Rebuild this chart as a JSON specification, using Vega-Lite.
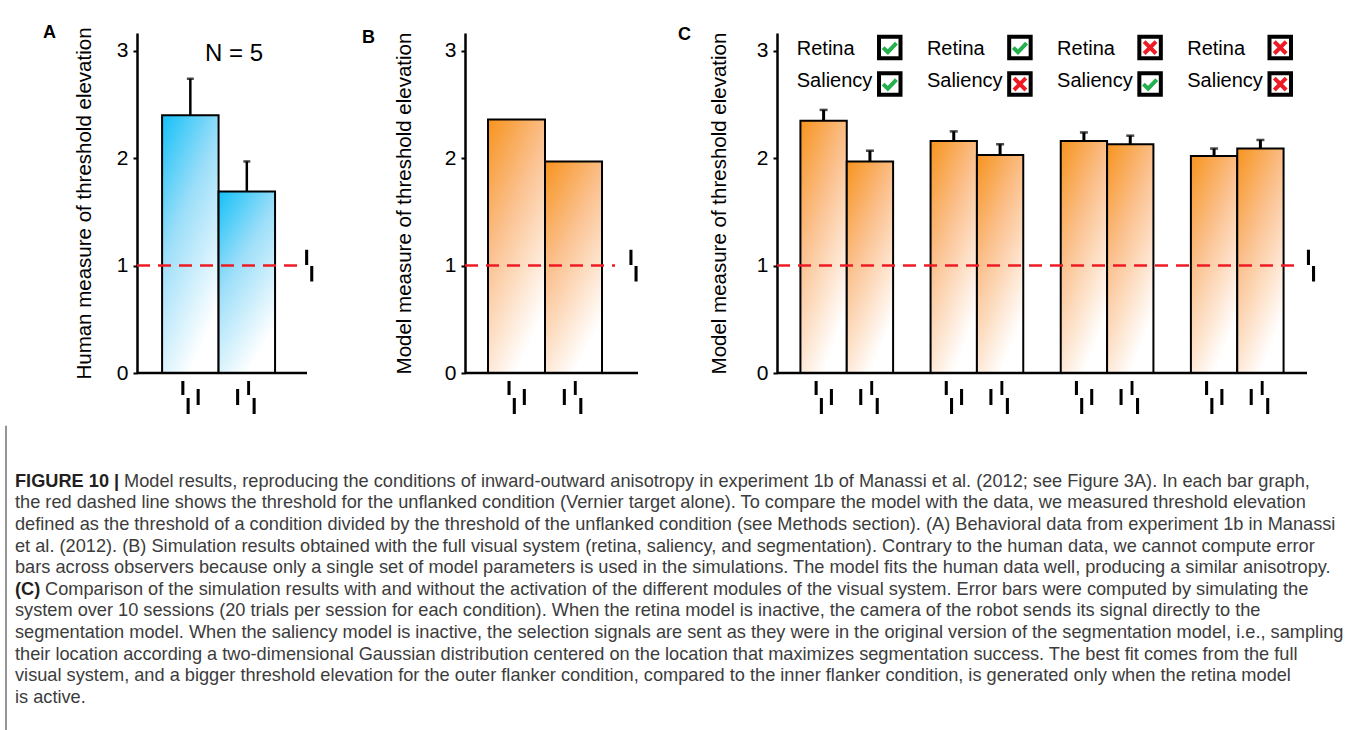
{
  "$schema": "https://vega.github.io/schema/vega-lite/v6.json",
  "autosize": "none",
  "padding": {"left": 137, "top": 33, "right": 1218, "bottom": 697},
  "background": "white",
  "columns": 3,
  "spacing": {"row": 44, "column": 139},
  "bounds": "flush",
  "datasets": {
    "human": [
      {"cond": "outer", "value": 2.40, "err": 2.74},
      {"cond": "inner", "value": 1.69, "err": 1.97}
    ],
    "modelB": [
      {"cond": "outer", "value": 2.36},
      {"cond": "inner", "value": 1.97}
    ],
    "modelC": [
      {"group": "retina+saliency", "cond": "outer", "value": 2.35, "err": 2.45},
      {"group": "retina+saliency", "cond": "inner", "value": 1.97, "err": 2.07},
      {"group": "retina only", "cond": "outer", "value": 2.16, "err": 2.25},
      {"group": "retina only", "cond": "inner", "value": 2.03, "err": 2.13},
      {"group": "saliency only", "cond": "outer", "value": 2.16, "err": 2.24},
      {"group": "saliency only", "cond": "inner", "value": 2.13, "err": 2.21},
      {"group": "neither", "cond": "outer", "value": 2.02, "err": 2.09},
      {"group": "neither", "cond": "inner", "value": 2.09, "err": 2.17}
    ],
    "legendC": [
      {"group": "retina+saliency", "module": "Retina", "state": "on"},
      {"group": "retina+saliency", "module": "Saliency", "state": "on"},
      {"group": "retina only", "module": "Retina", "state": "on"},
      {"group": "retina only", "module": "Saliency", "state": "off"},
      {"group": "saliency only", "module": "Retina", "state": "off"},
      {"group": "saliency only", "module": "Saliency", "state": "on"},
      {"group": "neither", "module": "Retina", "state": "off"},
      {"group": "neither", "module": "Saliency", "state": "off"}
    ],
    "caption": [
      {"line": 1, "part": "lead", "text": "FIGURE 10 |"},
      {"line": 1, "part": "afterFigure", "text": "Model results, reproducing the conditions of inward-outward anisotropy in experiment 1b of Manassi et al. (2012; see Figure 3A). In each bar graph,"},
      {"line": 2, "part": "body", "text": "the red dashed line shows the threshold for the unflanked condition (Vernier target alone). To compare the model with the data, we measured threshold elevation"},
      {"line": 3, "part": "body", "text": "defined as the threshold of a condition divided by the threshold of the unflanked condition (see Methods section). (A) Behavioral data from experiment 1b in Manassi"},
      {"line": 4, "part": "body", "text": "et al. (2012). (B) Simulation results obtained with the full visual system (retina, saliency, and segmentation). Contrary to the human data, we cannot compute error"},
      {"line": 5, "part": "body", "text": "bars across observers because only a single set of model parameters is used in the simulations. The model fits the human data well, producing a similar anisotropy."},
      {"line": 6, "part": "lead", "text": "(C)"},
      {"line": 6, "part": "afterC", "text": "Comparison of the simulation results with and without the activation of the different modules of the visual system. Error bars were computed by simulating the"},
      {"line": 7, "part": "body", "text": "system over 10 sessions (20 trials per session for each condition). When the retina model is inactive, the camera of the robot sends its signal directly to the"},
      {"line": 8, "part": "body", "text": "segmentation model. When the saliency model is inactive, the selection signals are sent as they were in the original version of the segmentation model, i.e., sampling"},
      {"line": 9, "part": "body", "text": "their location according a two-dimensional Gaussian distribution centered on the location that maximizes segmentation success. The best fit comes from the full"},
      {"line": 10, "part": "body", "text": "visual system, and a bigger threshold elevation for the outer flanker condition, compared to the inner flanker condition, is generated only when the retina model"},
      {"line": 11, "part": "body", "text": "is active."}
    ]
  },
  "concat": [
    {
      "width": 189,
      "height": 340,
      "title": {"text": "A", "anchor": "start", "frame": "group", "dx": -94, "offset": -15, "fontSize": 18, "fontWeight": "bold"},
      "data": {"name": "human"},
      "layer": [
        {
          "mark": {"type": "bar", "stroke": "black", "strokeWidth": 2,
            "fill": {"gradient": "linear", "x1": 0, "y1": 0, "x2": 0.5, "y2": 1,
              "stops": [{"offset": 0, "color": "#14C0F7"}, {"offset": 0.45, "color": "#9BDEF9"}, {"offset": 1, "color": "#FFFFFF"}]}},
          "encoding": {
            "x": {"field": "cond", "type": "nominal", "scale": {"domain": ["outer", "inner"], "paddingInner": 0, "paddingOuter": 0.673, "align": 0.33}, "axis": null},
            "y": {"field": "value", "type": "quantitative", "scale": {"domain": [0, 3.166], "nice": false},
              "axis": {"values": [0, 1, 2, 3], "format": "d", "title": "Human measure of threshold elevation", "titlePadding": 22}}
          }
        },
        {
          "mark": {"type": "rule", "color": "black", "strokeWidth": 2.5},
          "encoding": {"x": {"field": "cond", "type": "nominal"}, "y": {"field": "value", "type": "quantitative"}, "y2": {"field": "err"}}
        },
        {
          "mark": {"type": "tick", "color": "black", "orient": "horizontal", "size": 7, "thickness": 2.5},
          "encoding": {"x": {"field": "cond", "type": "nominal"}, "y": {"field": "err", "type": "quantitative"}}
        },
        {
          "data": {"values": [{"ref": "unflanked"}]},
          "mark": {"type": "rule", "color": "#ED1C24", "strokeWidth": 2.5, "strokeDash": [13, 8], "x2Offset": -26},
          "encoding": {"y": {"datum": 1}, "x": {"value": 0}, "x2": {"value": "width"}}
        },
        {
          "data": {"values": [{"ref": "baseline"}]},
          "mark": {"type": "rule", "color": "black", "strokeWidth": 2.5, "x2Offset": -19},
          "encoding": {"y": {"datum": 0}, "x": {"value": 0}, "x2": {"value": "width"}}
        },
        {
          "data": {"values": [{"cond": "alone"}]},
          "mark": {"type": "point", "shape": "M-0.24,-0.94H-0.06V-0.03H-0.24Z M0.06,0.03H0.24V0.94H0.06Z", "size": 1156, "filled": true, "color": "black", "opacity": 1, "xOffset": -16.8},
          "encoding": {"x": {"value": "width"}, "y": {"datum": 1}}
        },
        {
          "transform": [{"filter": "datum.cond === 'outer'"}],
          "mark": {"type": "point", "shape": "M-0.53,-0.97H-0.35V-0.15H-0.53Z M-0.22,0.03H-0.04V0.97H-0.22Z M0.37,-0.5H0.55V0.44H0.37Z", "size": 1156, "filled": true, "color": "black", "opacity": 1, "yOffset": 24.5},
          "encoding": {"x": {"field": "cond", "type": "nominal"}, "y": {"datum": 0}}
        },
        {
          "transform": [{"filter": "datum.cond === 'inner'"}],
          "mark": {"type": "point", "shape": "M-0.63,-0.5H-0.45V0.44H-0.63Z M0.02,-0.97H0.19V-0.15H0.02Z M0.34,0.03H0.52V0.97H0.34Z", "size": 1156, "filled": true, "color": "black", "opacity": 1, "yOffset": 24.5},
          "encoding": {"x": {"field": "cond", "type": "nominal"}, "y": {"datum": 0}}
        },
        {
          "data": {"values": [{"n": "N = 5"}]},
          "mark": {"type": "text", "fontSize": 24, "dx": -12.8, "baseline": "middle", "align": "center", "color": "black"},
          "encoding": {"x": {"datum": "inner"}, "y": {"datum": 2.97}, "text": {"field": "n"}}
        }
      ]
    },
    {
      "width": 173,
      "height": 340,
      "title": {"text": "B", "anchor": "start", "frame": "group", "dx": -103, "offset": -15, "fontSize": 18, "fontWeight": "bold"},
      "data": {"name": "modelB"},
      "layer": [
        {
          "mark": {"type": "bar", "stroke": "black", "strokeWidth": 2,
            "fill": {"gradient": "linear", "x1": 0, "y1": 0, "x2": 0.5, "y2": 1,
              "stops": [{"offset": 0, "color": "#F7931E"}, {"offset": 0.45, "color": "#FBC18F"}, {"offset": 1, "color": "#FFFFFF"}]}},
          "encoding": {
            "x": {"field": "cond", "type": "nominal", "scale": {"domain": ["outer", "inner"], "paddingInner": 0, "paddingOuter": 0.5175, "align": 0.39}, "axis": null},
            "y": {"field": "value", "type": "quantitative", "scale": {"domain": [0, 3.166], "nice": false},
              "axis": {"values": [0, 1, 2, 3], "format": "d", "title": "Model measure of threshold elevation", "titlePadding": 30}}
          }
        },
        {
          "data": {"values": [{"ref": "unflanked"}]},
          "mark": {"type": "rule", "color": "#ED1C24", "strokeWidth": 2.5, "strokeDash": [13, 8], "x2Offset": -23},
          "encoding": {"y": {"datum": 1}, "x": {"value": 0}, "x2": {"value": "width"}}
        },
        {
          "data": {"values": [{"ref": "baseline"}]},
          "mark": {"type": "rule", "color": "black", "strokeWidth": 2.5},
          "encoding": {"y": {"datum": 0}, "x": {"value": 0}, "x2": {"value": "width"}}
        },
        {
          "data": {"values": [{"cond": "alone"}]},
          "mark": {"type": "point", "shape": "M-0.24,-0.94H-0.06V-0.03H-0.24Z M0.06,0.03H0.24V0.94H0.06Z", "size": 1156, "filled": true, "color": "black", "opacity": 1, "xOffset": -4.5},
          "encoding": {"x": {"value": "width"}, "y": {"datum": 1}}
        },
        {
          "transform": [{"filter": "datum.cond === 'outer'"}],
          "mark": {"type": "point", "shape": "M-0.53,-0.97H-0.35V-0.15H-0.53Z M-0.22,0.03H-0.04V0.97H-0.22Z M0.37,-0.5H0.55V0.44H0.37Z", "size": 1156, "filled": true, "color": "black", "opacity": 1, "yOffset": 24.5},
          "encoding": {"x": {"field": "cond", "type": "nominal"}, "y": {"datum": 0}}
        },
        {
          "transform": [{"filter": "datum.cond === 'inner'"}],
          "mark": {"type": "point", "shape": "M-0.63,-0.5H-0.45V0.44H-0.63Z M0.02,-0.97H0.19V-0.15H0.02Z M0.34,0.03H0.52V0.97H0.34Z", "size": 1156, "filled": true, "color": "black", "opacity": 1, "yOffset": 24.5},
          "encoding": {"x": {"field": "cond", "type": "nominal"}, "y": {"datum": 0}}
        }
      ]
    },
    {
      "width": 530,
      "height": 340,
      "title": {"text": "C", "anchor": "start", "frame": "group", "dx": -99, "offset": -15, "fontSize": 18, "fontWeight": "bold"},
      "data": {"name": "modelC"},
      "layer": [
        {
          "mark": {"type": "bar", "stroke": "black", "strokeWidth": 2,
            "fill": {"gradient": "linear", "x1": 0, "y1": 0, "x2": 0.5, "y2": 1,
              "stops": [{"offset": 0, "color": "#F7931E"}, {"offset": 0.45, "color": "#FBC18F"}, {"offset": 1, "color": "#FFFFFF"}]}},
          "encoding": {
            "x": {"field": "group", "type": "nominal", "scale": {"domain": ["retina+saliency", "retina only", "saliency only", "neither"], "paddingInner": 0.288, "paddingOuter": 0.18}, "axis": null},
            "xOffset": {"field": "cond", "type": "nominal", "scale": {"domain": ["outer", "inner"], "paddingInner": 0, "paddingOuter": 0}},
            "y": {"field": "value", "type": "quantitative", "scale": {"domain": [0, 3.166], "nice": false},
              "axis": {"values": [0, 1, 2, 3], "format": "d", "title": "Model measure of threshold elevation", "titlePadding": 27}}
          }
        },
        {
          "mark": {"type": "rule", "color": "black", "strokeWidth": 3},
          "encoding": {"x": {"field": "group", "type": "nominal"}, "xOffset": {"field": "cond", "type": "nominal"}, "y": {"field": "value", "type": "quantitative"}, "y2": {"field": "err"}}
        },
        {
          "mark": {"type": "tick", "color": "black", "orient": "horizontal", "size": 8, "thickness": 2.5},
          "encoding": {"x": {"field": "group", "type": "nominal"}, "xOffset": {"field": "cond", "type": "nominal"}, "y": {"field": "err", "type": "quantitative"}}
        },
        {
          "data": {"values": [{"ref": "unflanked"}]},
          "mark": {"type": "rule", "color": "#ED1C24", "strokeWidth": 2.5, "strokeDash": [13, 8], "x2Offset": -7},
          "encoding": {"y": {"datum": 1}, "x": {"value": 0}, "x2": {"value": "width"}}
        },
        {
          "data": {"values": [{"ref": "baseline"}]},
          "mark": {"type": "rule", "color": "black", "strokeWidth": 2.5},
          "encoding": {"y": {"datum": 0}, "x": {"value": 0}, "x2": {"value": "width"}}
        },
        {
          "data": {"values": [{"cond": "alone"}]},
          "mark": {"type": "point", "shape": "M-0.24,-0.94H-0.06V-0.03H-0.24Z M0.06,0.03H0.24V0.94H0.06Z", "size": 1156, "filled": true, "color": "black", "opacity": 1, "xOffset": 4},
          "encoding": {"x": {"value": "width"}, "y": {"datum": 1}}
        },
        {
          "transform": [{"filter": "datum.cond === 'outer'"}],
          "mark": {"type": "point", "shape": "M-0.53,-0.97H-0.35V-0.15H-0.53Z M-0.22,0.03H-0.04V0.97H-0.22Z M0.37,-0.5H0.55V0.44H0.37Z", "size": 1156, "filled": true, "color": "black", "opacity": 1, "yOffset": 24.5},
          "encoding": {"x": {"field": "group", "type": "nominal"}, "xOffset": {"field": "cond", "type": "nominal"}, "y": {"datum": 0}}
        },
        {
          "transform": [{"filter": "datum.cond === 'inner'"}],
          "mark": {"type": "point", "shape": "M-0.63,-0.5H-0.45V0.44H-0.63Z M0.02,-0.97H0.19V-0.15H0.02Z M0.34,0.03H0.52V0.97H0.34Z", "size": 1156, "filled": true, "color": "black", "opacity": 1, "yOffset": 24.5},
          "encoding": {"x": {"field": "group", "type": "nominal"}, "xOffset": {"field": "cond", "type": "nominal"}, "y": {"datum": 0}}
        },
        {
          "data": {"name": "legendC"},
          "transform": [{"filter": "datum.module === 'Retina'"}],
          "mark": {"type": "text", "align": "left", "baseline": "middle", "dx": -50, "fontSize": 20, "color": "black"},
          "encoding": {"x": {"field": "group", "type": "nominal"}, "y": {"datum": 3.02}, "text": {"field": "module"}}
        },
        {
          "data": {"name": "legendC"},
          "transform": [{"filter": "datum.module === 'Saliency'"}],
          "mark": {"type": "text", "align": "left", "baseline": "middle", "dx": -50, "fontSize": 20, "color": "black"},
          "encoding": {"x": {"field": "group", "type": "nominal"}, "y": {"datum": 2.72}, "text": {"field": "module"}}
        },
        {
          "data": {"name": "legendC"},
          "transform": [{"filter": "datum.module === 'Retina'"}],
          "mark": {"type": "point", "shape": "square", "size": 462, "filled": false, "color": "black", "strokeWidth": 4, "opacity": 1, "xOffset": 43},
          "encoding": {"x": {"field": "group", "type": "nominal"}, "y": {"datum": 3.03}}
        },
        {
          "data": {"name": "legendC"},
          "transform": [{"filter": "datum.module === 'Saliency'"}],
          "mark": {"type": "point", "shape": "square", "size": 462, "filled": false, "color": "black", "strokeWidth": 4, "opacity": 1, "xOffset": 43},
          "encoding": {"x": {"field": "group", "type": "nominal"}, "y": {"datum": 2.69}}
        },
        {
          "data": {"name": "legendC"},
          "transform": [{"filter": "datum.module === 'Retina'"}],
          "mark": {"type": "point", "size": 462, "filled": false, "strokeWidth": 4, "opacity": 1, "xOffset": 43},
          "encoding": {
            "x": {"field": "group", "type": "nominal"}, "y": {"datum": 3.03},
            "shape": {"field": "state", "type": "nominal", "scale": {"domain": ["on", "off"], "range": ["M-0.62,0.0L-0.18,0.42L0.62,-0.42", "M-0.55,-0.55L0.55,0.55M0.55,-0.55L-0.55,0.55"]}, "legend": null},
            "color": {"field": "state", "type": "nominal", "scale": {"domain": ["on", "off"], "range": ["#22B14C", "#ED1C24"]}, "legend": null}
          }
        },
        {
          "data": {"name": "legendC"},
          "transform": [{"filter": "datum.module === 'Saliency'"}],
          "mark": {"type": "point", "size": 462, "filled": false, "strokeWidth": 4, "opacity": 1, "xOffset": 43},
          "encoding": {
            "x": {"field": "group", "type": "nominal"}, "y": {"datum": 2.69},
            "shape": {"field": "state", "type": "nominal", "scale": {"domain": ["on", "off"], "range": ["M-0.62,0.0L-0.18,0.42L0.62,-0.42", "M-0.55,-0.55L0.55,0.55M0.55,-0.55L-0.55,0.55"]}, "legend": null},
            "color": {"field": "state", "type": "nominal", "scale": {"domain": ["on", "off"], "range": ["#22B14C", "#ED1C24"]}, "legend": null}
          }
        }
      ]
    },
    {
      "width": 189,
      "height": 324,
      "data": {"name": "caption"},
      "layer": [
        {
          "data": {"values": [{"edge": "left"}]},
          "mark": {"type": "rule", "color": "#4d4d4d", "strokeWidth": 1.2, "xOffset": -131},
          "encoding": {
            "x": {"datum": 0, "type": "quantitative", "scale": {"domain": [0, 1], "nice": false}, "axis": null},
            "y": {"datum": -1.6, "type": "quantitative", "scale": {"domain": [-2, 13], "nice": false, "reverse": true}, "axis": null},
            "y2": {"datum": 12.6}
          }
        },
        {
          "transform": [{"filter": "datum.part === 'body'"}],
          "mark": {"type": "text", "align": "left", "baseline": "middle", "dx": -122, "fontSize": 18.2, "color": "#3c3c3c"},
          "encoding": {"x": {"datum": 0, "type": "quantitative"}, "y": {"field": "line", "type": "quantitative"}, "text": {"field": "text"}}
        },
        {
          "transform": [{"filter": "datum.part === 'lead'"}],
          "mark": {"type": "text", "align": "left", "baseline": "middle", "dx": -122, "fontSize": 18.2, "fontWeight": "bold", "color": "#231F20"},
          "encoding": {"x": {"datum": 0, "type": "quantitative"}, "y": {"field": "line", "type": "quantitative"}, "text": {"field": "text"}}
        },
        {
          "transform": [{"filter": "datum.part === 'afterFigure'"}],
          "mark": {"type": "text", "align": "left", "baseline": "middle", "dx": -13, "fontSize": 18.2, "color": "#3c3c3c"},
          "encoding": {"x": {"datum": 0, "type": "quantitative"}, "y": {"field": "line", "type": "quantitative"}, "text": {"field": "text"}}
        },
        {
          "transform": [{"filter": "datum.part === 'afterC'"}],
          "mark": {"type": "text", "align": "left", "baseline": "middle", "dx": -92, "fontSize": 18.2, "color": "#3c3c3c"},
          "encoding": {"x": {"datum": 0, "type": "quantitative"}, "y": {"field": "line", "type": "quantitative"}, "text": {"field": "text"}}
        }
      ]
    }
  ],
  "config": {
    "view": {"stroke": null},
    "font": "Liberation Sans",
    "title": {"fontSize": 18, "fontWeight": "bold", "color": "black", "font": "Liberation Sans"},
    "text": {"font": "Liberation Sans"},
    "axis": {
      "domainColor": "black", "domainWidth": 2.5,
      "tickColor": "black", "tickWidth": 2, "tickSize": 4,
      "labelFont": "Liberation Sans", "labelFontSize": 21, "labelColor": "black", "labelPadding": 5,
      "titleFont": "Liberation Sans", "titleFontSize": 20.5, "titleFontWeight": "normal", "titleColor": "black",
      "grid": false
    }
  }
}
